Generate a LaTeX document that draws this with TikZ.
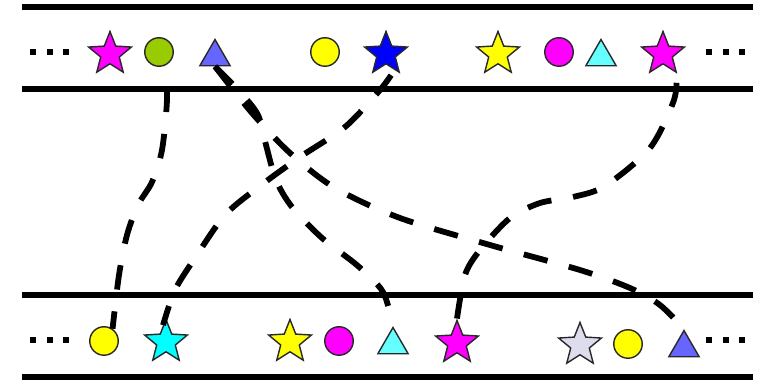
\documentclass[tikz,border=0pt]{standalone}
\usepackage{xcolor}
\definecolor{sqmagenta}{RGB}{255,0,255}
\definecolor{sqgreen}{RGB}{153,204,0}
\definecolor{sqperi}{RGB}{102,102,255}
\definecolor{sqyellow}{RGB}{255,255,0}
\definecolor{sqblue}{RGB}{0,0,255}
\definecolor{sqaqua}{RGB}{102,255,255}
\definecolor{sqcyan}{RGB}{0,255,255}
\definecolor{sqlavender}{RGB}{221,221,238}
\definecolor{sqedge}{RGB}{40,40,40}
\usetikzlibrary{arrows.meta,positioning,shapes.geometric,calc}

\begin{document}
\begin{tikzpicture}[x=0.02cm, y=-0.02cm,
  rail/.style={line width=3.2pt},
  link/.style={line width=3.3pt, dash pattern=on 14pt off 12.5pt},
  starsym/.style={star, star points=5, star point ratio=2.3, minimum size=0.9cm,
    inner sep=0pt, draw=sqedge, line width=0.8pt},
  dotsym/.style={circle, minimum size=0.57cm, inner sep=0pt, draw=sqedge, line width=0.8pt},
  trisym/.style={regular polygon, regular polygon sides=3, minimum size=0.7cm,
    inner sep=0pt, draw=sqedge, line width=0.8pt}]
  \useasboundingbox (0,0) rectangle (762,381);

  % Rails
  \draw[rail] (22,7) -- (753,7);
  \draw[rail] (22,89) -- (753,89);
  \draw[rail] (22,295) -- (753,295);
  \draw[rail] (22,377) -- (753,377);

  % Ellipsis marks
  \foreach \x in {33,50,66,709,726,742}{
    \fill (\x-3,49) rectangle (\x+3,55);
    \fill (\x-3,337) rectangle (\x+3,343);
  }

  % Upper row
  \node[starsym, fill=sqmagenta] (us1) at (110,54) {};
  \node[dotsym, fill=sqgreen] (uc1) at (159,52) {};
  \node[trisym, fill=sqperi] (ut1) at (215,57) {};
  \node[dotsym, fill=sqyellow] (uc2) at (325,52) {};
  \node[starsym, fill=sqblue] (us2) at (386,54) {};
  \node[starsym, fill=sqyellow] (us3) at (498,54) {};
  \node[dotsym, fill=sqmagenta] (uc3) at (559,52) {};
  \node[trisym, fill=sqaqua] (ut2) at (601,57) {};
  \node[starsym, fill=sqmagenta] (us4) at (663,54) {};

  % Lower row
  \node[dotsym, fill=sqyellow] (lc1) at (104,341) {};
  \node[starsym, fill=sqcyan] (ls1) at (166,342) {};
  \node[starsym, fill=sqyellow] (ls2) at (290,342) {};
  \node[dotsym, fill=sqmagenta] (lc2) at (339,341) {};
  \node[trisym, fill=sqaqua] (lt1) at (393,345) {};
  \node[starsym, fill=sqmagenta] (ls3) at (457,343) {};
  \node[starsym, fill=sqlavender] (ls4) at (580,345) {};
  \node[dotsym, fill=sqyellow] (lc3) at (628,344) {};
  \node[trisym, fill=sqperi] (lt2) at (684,348) {};

  % Links
  \draw[link, dash phase=14pt] plot[smooth] coordinates
    {(uc1.-65) (167,100) (162,150) (152,182) (138,205) (127,235) (119,275) (lc1.55)};
  \draw[link, dash phase=23pt] plot[smooth] coordinates
    {(us2.-62) (380,90) (345,127) (300,157) (260,186) (225,215) (195,258) (175,290) (ls1.100)};
  \draw[link] plot[smooth] coordinates
    {(ut1.south) (240,92) (258,115) (266,145) (276,180) (292,207) (322,238) (358,266) (383,292) (lt1.north)};
  \draw[link] plot[smooth] coordinates
    {(ut1.south) (252,113) (290,153) (335,188) (400,218) (490,245) (580,270) (630,288) (660,305) (lt2.north)};
  \draw[link, dash phase=21pt] plot[smooth] coordinates
    {(us4.-55) (674,100) (650,148) (605,186) (573,197) (540,203) (510,218) (480,250) (465,275) (ls3.north)};
\end{tikzpicture}
\end{document}
